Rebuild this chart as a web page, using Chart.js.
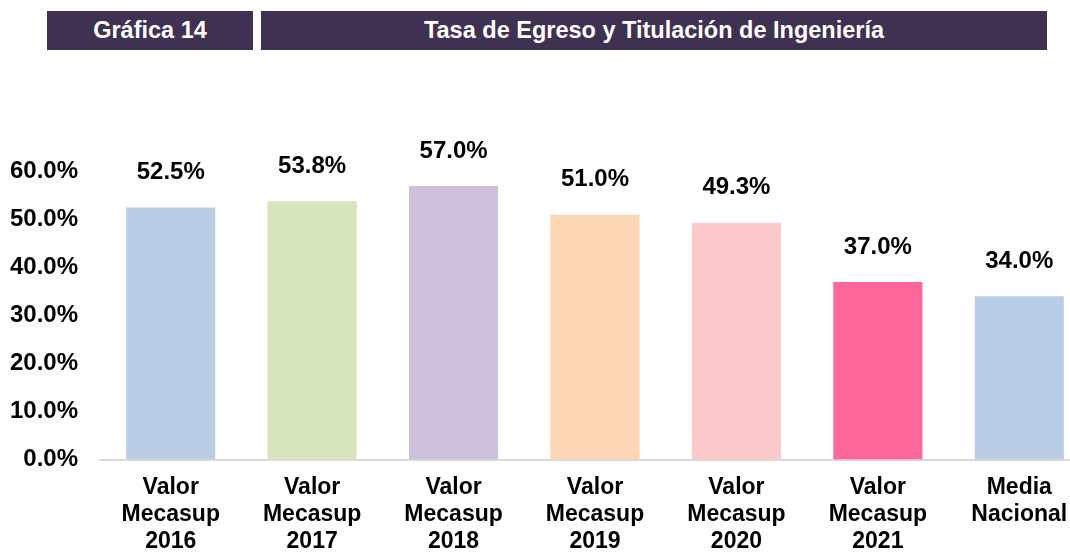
<!DOCTYPE html>
<html>
<head>
<meta charset="utf-8">
<script src="https://cdn.jsdelivr.net/npm/chart.js@4"></script>
<style>
  html, body { margin: 0; padding: 0; background: #fff; overflow: hidden; }
  body { width: 1070px; height: 552px; position: relative; font-family: "Liberation Sans", Arial, sans-serif; }
  .box { position: absolute; top: 11px; height: 39px; background: #3f3152; color: #fff;
         font-weight: bold; font-size: 23.5px; line-height: 39px; text-align: center; }
  #wrap { position: absolute; left: 0; top: 0; width: 1090px; height: 552px; }
</style>
</head>
<body>
<div class="box" style="left:47px;width:206px;">Gráfica 14</div>
<div class="box" style="left:261px;width:786px;">Tasa de Egreso y Titulación de Ingeniería</div>
<div id="wrap"><canvas id="chart"></canvas></div>
<script>
var categories = [
    ["Valor", "Mecasup", "2016"],
    ["Valor", "Mecasup", "2017"],
    ["Valor", "Mecasup", "2018"],
    ["Valor", "Mecasup", "2019"],
    ["Valor", "Mecasup", "2020"],
    ["Valor", "Mecasup", "2021"],
    ["Media", "Nacional"]
];
var tasa = [52.5, 53.8, 57.0, 51.0, 49.3, 37.0, 34.0];
var barColors = ["#b9cde5", "#d7e4bd", "#ccc1da", "#fcd5b5", "#fdcacb", "#ff6699", "#b9cde5"];
var yTicks = [0, 10, 20, 30, 40, 50, 60];

var fontFamily = "'Liberation Sans', Arial, sans-serif";

// writes the value above each bar
var valueLabels = {
    id: 'valueLabels',
    afterDatasetsDraw: function (chart) {
        var ctx = chart.ctx;
        var meta = chart.getDatasetMeta(0);
        ctx.save();
        ctx.font = 'bold 24px ' + fontFamily;
        ctx.fillStyle = '#000';
        ctx.textAlign = 'center';
        ctx.textBaseline = 'middle';
        meta.data.forEach(function (bar, i) {
            ctx.fillText(tasa[i].toFixed(1) + '%', bar.x, bar.y - 35);
        });
        ctx.restore();
    }
};

var ctx = document.getElementById('chart').getContext('2d');
var myBarChart = new Chart(ctx, {
    type: 'bar',
    data: {
        labels: categories,
        datasets: [{
            data: tasa,
            backgroundColor: barColors,
            borderWidth: 0,
            barPercentage: 0.63,
            categoryPercentage: 1
        }]
    },
    options: {
        responsive: true,
        maintainAspectRatio: false,
        animation: false,
        layout: { padding: { top: 171.5, left: 0, right: 0, bottom: 0 } },
        plugins: { legend: { display: false }, tooltip: { enabled: false } },
        scales: {
            x: {
                grid: { display: false, drawTicks: false },
                border: { display: true, color: '#d9d9d9', width: 2 },
                ticks: {
                    color: '#000',
                    font: { family: fontFamily, size: 23, weight: 'bold', lineHeight: 1.17 },
                    padding: 15, maxRotation: 0, autoSkip: false
                },
                afterFit: function (s) { s.height = 92.5; }
            },
            y: {
                min: 0,
                max: 60,
                afterBuildTicks: function (s) { s.ticks = yTicks.map(function (v) { return { value: v }; }); },
                grid: { display: false, drawTicks: false },
                border: { display: false },
                ticks: {
                    color: '#000',
                    font: { family: fontFamily, size: 24, weight: 'bold' },
                    padding: 22,
                    callback: function (v) { return v.toFixed(1) + '%'; }
                },
                afterFit: function (s) { s.width = 100; }
            }
        }
    },
    plugins: [valueLabels]
});
</script>
</body>
</html>
